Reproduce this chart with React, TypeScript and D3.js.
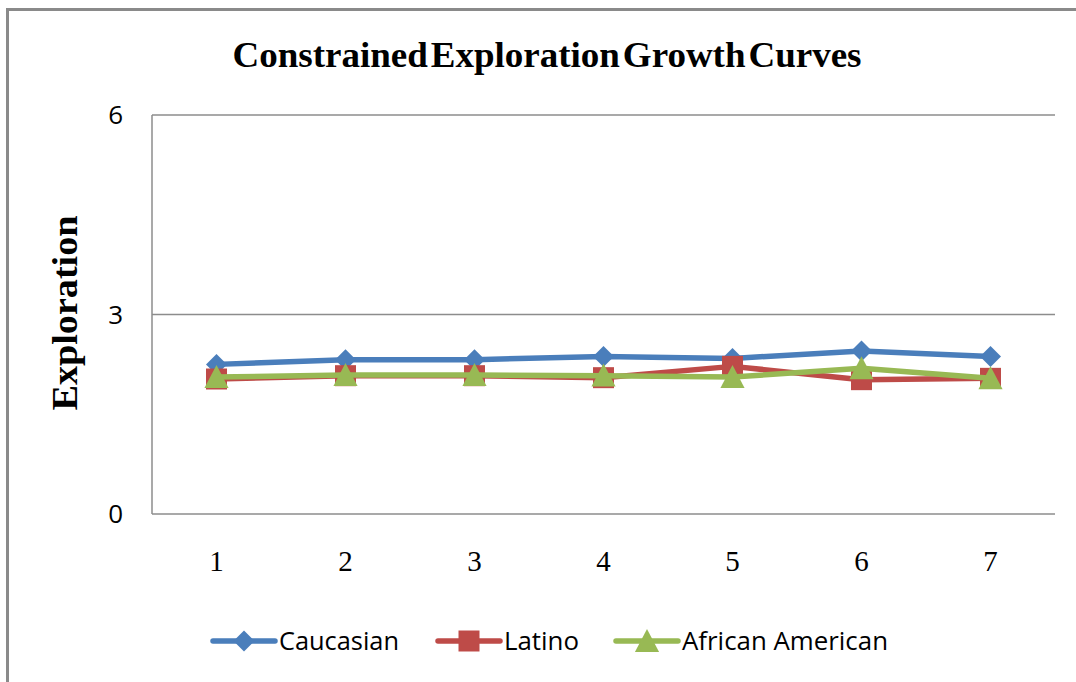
import React from "react";
import * as d3 from "d3";

// Measurement occasions and group means
const waves = ["1", "2", "3", "4", "5", "6", "7"];
const caucasian = [2.25, 2.32, 2.32, 2.37, 2.34, 2.45, 2.37];
const latino = [2.03, 2.08, 2.08, 2.05, 2.22, 2.02, 2.04];
const africanAmerican = [2.06, 2.09, 2.09, 2.08, 2.06, 2.19, 2.04];
const yTicks = [0, 3, 6];

const seriesNames = ["Caucasian", "Latino", "African American"];
const seriesColors = ["#4a7ebb", "#be4b48", "#98b954"];
const seriesMarkers = ["diamond", "square", "triangle"];

const W = 1076;
const H = 682;
const plot = { left: 152, right: 1055, top: 115, bottom: 514 };

function markerPath(kind: string, size: number): string {
  const s = size / 2;
  if (kind === "diamond") return `M0,${-s}L${s},0L0,${s}L${-s},0Z`;
  if (kind === "square") return `M${-s},${-s}H${s}V${s}H${-s}Z`;
  return `M0,${-s * 1.05}L${s * 1.05},${s * 0.95}L${-s * 1.05},${s * 0.95}Z`;
}

export default function App() {
  const x = d3.scaleBand<string>().domain(waves).range([plot.left, plot.right]).padding(0);
  const cx = (w: string) => (x(w) as number) + x.bandwidth() / 2;
  const y = d3.scaleLinear().domain([0, 6]).range([plot.bottom, plot.top]);

  const series = [caucasian, latino, africanAmerican];
  const line = d3
    .line<number>()
    .x((_, i) => cx(waves[i]))
    .y((d) => y(d));

  const markerSizes = [21, 21, 23];

  // legend layout: line start, text start, text width
  const legend = [
    { x0: 213, x1: 275, tx: 279, tw: 120 },
    { x0: 438, x1: 500, tx: 504, tw: 75 },
    { x0: 616, x1: 678, tx: 682, tw: 206 },
  ];
  const legendY = 641;

  return (
    <svg
      width={W}
      height={H}
      style={{ position: "absolute", left: 0, top: 0, background: "#fff" }}
    >
      <rect x={0} y={0} width={W} height={H} fill="#fff" />
      {/* chart frame */}
      <rect x={7.5} y={9.5} width={W + 20} height={H + 20} fill="none" stroke="#8a8a8a" strokeWidth={3} />

      {/* title */}
      <text
        x={547}
        y={67}
        textAnchor="middle"
        fontFamily="'Liberation Serif', 'Times New Roman', serif"
        fontWeight="bold"
        fontSize={35}
        textLength={629}
        lengthAdjust="spacingAndGlyphs"
        wordSpacing={-6}
        fill="#000"
      >
        Constrained Exploration Growth Curves
      </text>

      {/* y axis title */}
      <text
        transform={`translate(77,313) rotate(-90)`}
        textAnchor="middle"
        fontFamily="'Liberation Serif', 'Times New Roman', serif"
        fontWeight="bold"
        fontSize={35}
        textLength={195}
        lengthAdjust="spacingAndGlyphs"
        fill="#000"
      >
        Exploration
      </text>

      {/* gridlines and axes */}
      {yTicks.map((t) => (
        <line
          key={"g" + t}
          x1={plot.left}
          x2={plot.right}
          y1={y(t)}
          y2={y(t)}
          stroke="#8c8c8c"
          strokeWidth={1.5}
        />
      ))}
      <line x1={plot.left} x2={plot.left} y1={plot.top} y2={plot.bottom} stroke="#8c8c8c" strokeWidth={1.5} />

      {yTicks.map((t) => (
        <text
          key={"yt" + t}
          x={123}
          y={y(t) + 9}
          textAnchor="end"
          fontFamily="'Open Sans', 'Liberation Sans', sans-serif"
          fontSize={26}
          fill="#000"
        >
          {t}
        </text>
      ))}

      {waves.map((w) => (
        <text
          key={"xt" + w}
          x={cx(w)}
          y={571}
          textAnchor="middle"
          fontFamily="'Liberation Serif', 'Times New Roman', serif"
          fontSize={29}
          fill="#000"
        >
          {w}
        </text>
      ))}

      {/* series */}
      {series.map((vals, si) => (
        <g key={"s" + si}>
          <path d={line(vals) || ""} fill="none" stroke={seriesColors[si]} strokeWidth={5.5} strokeLinejoin="round" />
          {vals.map((v, i) => (
            <path
              key={i}
              d={markerPath(seriesMarkers[si], markerSizes[si])}
              transform={`translate(${cx(waves[i])},${y(v)})`}
              fill={seriesColors[si]}
            />
          ))}
        </g>
      ))}

      {/* legend */}
      {legend.map((l, i) => (
        <g key={"l" + i}>
          <line
            x1={l.x0}
            x2={l.x1}
            y1={legendY}
            y2={legendY}
            stroke={seriesColors[i]}
            strokeWidth={5.5}
            strokeLinecap="round"
          />
          <path
            d={markerPath(seriesMarkers[i], markerSizes[i])}
            transform={`translate(${(l.x0 + l.x1) / 2},${legendY})`}
            fill={seriesColors[i]}
          />
          <text
            x={l.tx}
            y={legendY + 9}
            fontFamily="'Open Sans', 'Liberation Sans', sans-serif"
            fontSize={25}
            textLength={l.tw}
            lengthAdjust="spacingAndGlyphs"
            fill="#000"
          >
            {seriesNames[i]}
          </text>
        </g>
      ))}
    </svg>
  );
}
